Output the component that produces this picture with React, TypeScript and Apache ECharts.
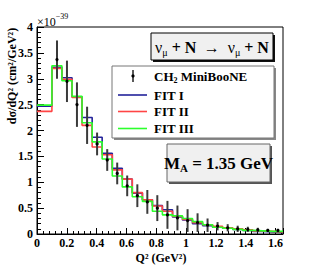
import React, { useEffect, useRef } from "react";
import * as echarts from "echarts";

// Histogram bin edges (Q^2, GeV^2)
const binEdges = [0, 0.1, 0.167, 0.235, 0.302, 0.37, 0.437, 0.505, 0.572, 0.639, 0.707, 0.774, 0.841, 0.909, 0.976, 1.043, 1.111, 1.178, 1.245, 1.313, 1.38, 1.447, 1.515, 1.582, 1.65];
// Fit predictions per bin (x1e-39 cm^2/GeV^2)
const fit1 = [2.47, 3.22, 3.02, 2.65, 2.25, 1.87, 1.56, 1.27, 1.06, 0.79, 0.66, 0.55, 0.47, 0.33, 0.27, 0.2, 0.16, 0.13, 0.11, 0.09, 0.07, 0.05, 0.04, 0.03];
const fit2 = [2.37, 3.2, 2.99, 2.64, 2.1, 1.68, 1.53, 1.24, 1.06, 0.8, 0.66, 0.54, 0.44, 0.34, 0.28, 0.22, 0.18, 0.15, 0.12, 0.1, 0.08, 0.06, 0.05, 0.04];
const fit3 = [2.49, 3.25, 2.96, 2.66, 2.15, 1.78, 1.45, 1.12, 0.91, 0.72, 0.63, 0.44, 0.37, 0.35, 0.3, 0.24, 0.18, 0.13, 0.11, 0.09, 0.07, 0.06, 0.05, 0.05];
// MiniBooNE data points
const dataQ2 = [0.134, 0.201, 0.268, 0.336, 0.403, 0.471, 0.538, 0.605, 0.673, 0.74, 0.807, 0.875, 0.942, 1.01, 1.077, 1.144, 1.211, 1.279, 1.346, 1.414, 1.481, 1.548, 1.616];
const dataXs = [3.37, 2.95, 2.5, 2.1, 1.74, 1.43, 1.17, 0.93, 0.74, 0.62, 0.5, 0.37, 0.31, 0.26, 0.22, 0.17, 0.15, 0.12, 0.1, 0.09, 0.08, 0.07, 0.07];
const dataErr = [0.37, 0.4, 0.43, 0.36, 0.22, 0.21, 0.21, 0.2, 0.22, 0.23, 0.25, 0.27, 0.24, 0.22, 0.18, 0.13, 0.08, 0.07, 0.06, 0.05, 0.04, 0.03, 0.03];

const legendNames = ["CH", "FIT I", "FIT II", "FIT III"];
const FONT = "Liberation Serif";
const BLUE = "#23239a";
const RED = "#ff4545";
const GREEN = "#2cff2c";

function stepData(vals: number[]) {
  return binEdges.map((e, i) => [e, vals[Math.min(i, vals.length - 1)]]);
}

export default function App() {
  const ref = useRef<HTMLDivElement>(null);
  useEffect(() => {
    if (!ref.current) return;
    const chart = echarts.init(ref.current, null, { renderer: "svg" });
    const lineSeries = (name: string, vals: number[], color: string) => ({
      name,
      type: "line",
      step: "end",
      data: stepData(vals),
      showSymbol: false,
      symbol: "none",
      lineStyle: { color, width: 1.6 },
      z: 2,
    });
    const legendRowY = [76, 95, 111.5, 128.5];
    const option: any = {
      animation: false,
      backgroundColor: "#fff",
      grid: { left: 37, top: 27, right: 32, bottom: 42, show: true, borderColor: "#000", borderWidth: 1, backgroundColor: "transparent" },
      xAxis: {
        type: "value",
        min: 0,
        max: 1.65,
        interval: 0.2,
        axisLine: { show: true, lineStyle: { color: "#000", width: 1 } },
        axisTick: { show: true, inside: true, length: 6, lineStyle: { color: "#000" } },
        minorTick: { show: true, splitNumber: 5, length: 3, lineStyle: { color: "#000" } },
        splitLine: { show: false },
        axisLabel: {
          color: "#000",
          fontFamily: FONT,
          fontWeight: "bold",
          fontSize: 12,
          margin: 3,
          formatter: (v: number) => (Math.abs(v / 0.2 - Math.round(v / 0.2)) < 1e-6 ? String(Math.round(v * 10) / 10) : ""),
        },
      },
      yAxis: {
        type: "value",
        min: 0,
        max: 4,
        interval: 0.5,
        axisLine: { show: true, lineStyle: { color: "#000", width: 1 } },
        axisTick: { show: true, inside: true, length: 7, lineStyle: { color: "#000" } },
        minorTick: { show: true, splitNumber: 5, length: 4, lineStyle: { color: "#000" } },
        splitLine: { show: false },
        axisLabel: { color: "#000", fontFamily: FONT, fontWeight: "bold", fontSize: 12, margin: 4 },
      },
      series: [
        lineSeries(legendNames[1], fit1, BLUE),
        lineSeries(legendNames[2], fit2, RED),
        lineSeries(legendNames[3], fit3, GREEN),
        {
          name: "data",
          type: "custom",
          z: 5,
          data: dataQ2.map((q, i) => [q, dataXs[i], dataErr[i]]),
          renderItem: (params: any, api: any) => {
            const x = api.value(0);
            const y = api.value(1);
            const e = api.value(2);
            const top = api.coord([x, y + e]);
            const bot = api.coord([x, Math.max(0, y - e)]);
            const c = api.coord([x, y]);
            return {
              type: "group",
              children: [
                { type: "line", shape: { x1: top[0], y1: top[1], x2: bot[0], y2: bot[1] }, style: { stroke: "#3a3a3a", lineWidth: 2 } },
                { type: "circle", shape: { cx: c[0], cy: c[1], r: 1.6 }, style: { fill: "#000" } },
              ],
            };
          },
        },
      ],
      graphic: [
        // x10^-39
        {
          type: "text",
          x: 37,
          y: 20,
          z: 100,
          style: {
            text: "{n|×10}{s|−39}",
            verticalAlign: "middle",
            rich: {
              n: { fontFamily: FONT, fontSize: 12, fill: "#000", lineHeight: 16, verticalAlign: "bottom" },
              s: { fontFamily: FONT, fontSize: 8, fill: "#000", lineHeight: 16, verticalAlign: "top" },
            },
          },
        },
        // y axis title
        {
          type: "text",
          x: 12,
          y: 76,
          rotation: Math.PI / 2,
          z: 100,
          style: { text: "dσ/dQ² (cm²/GeV²)", fontFamily: FONT, fontWeight: "bold", fontSize: 12, fill: "#000", align: "center", verticalAlign: "middle" },
        },
        // x axis title
        {
          type: "text",
          x: 161,
          y: 258,
          z: 100,
          style: { text: "Q² (GeV²)", fontFamily: FONT, fontWeight: "bold", fontSize: 12, fill: "#000", align: "center", verticalAlign: "middle" },
        },
        // reaction box
        { type: "rect", z: 100, shape: { x: 153, y: 35, width: 122, height: 27 }, style: { fill: "#111" } },
        { type: "rect", z: 101, shape: { x: 151, y: 33, width: 122, height: 27 }, style: { fill: "#f0f0f0", stroke: "#000", lineWidth: 1 } },
        {
          type: "text",
          x: 212,
          y: 47,
          z: 102,
          style: {
            text: "{g|ν}{sub|μ}{b| + N} {g| → }{g| ν}{sub|μ}{b| + N}",
            align: "center",
            verticalAlign: "middle",
            rich: {
              g: { fontFamily: FONT, fontSize: 16, fill: "#000", lineHeight: 20, verticalAlign: "middle" },
              b: { fontFamily: FONT, fontSize: 16, fontWeight: "bold", fill: "#000", lineHeight: 20, verticalAlign: "middle" },
              sub: { fontFamily: FONT, fontSize: 10, fill: "#000", lineHeight: 20, verticalAlign: "bottom" },
            },
          },
        },
        // legend box
        { type: "rect", z: 100, shape: { x: 114, y: 68, width: 162, height: 72 }, style: { fill: "#888" } },
        { type: "rect", z: 101, shape: { x: 112, y: 66, width: 162, height: 72 }, style: { fill: "#fff", stroke: "#777", lineWidth: 1 } },
        { type: "line", z: 102, shape: { x1: 133, y1: 70, x2: 133, y2: 82 }, style: { stroke: "#222", lineWidth: 1.5 } },
        { type: "circle", z: 103, shape: { cx: 133, cy: 76, r: 1.6 }, style: { fill: "#000" } },
        { type: "line", z: 102, shape: { x1: 118, y1: legendRowY[1], x2: 147, y2: legendRowY[1] }, style: { stroke: BLUE, lineWidth: 1.6 } },
        { type: "line", z: 102, shape: { x1: 118, y1: legendRowY[2], x2: 147, y2: legendRowY[2] }, style: { stroke: RED, lineWidth: 1.6 } },
        { type: "line", z: 102, shape: { x1: 118, y1: legendRowY[3], x2: 147, y2: legendRowY[3] }, style: { stroke: GREEN, lineWidth: 1.6 } },
        {
          type: "text",
          x: 154,
          y: legendRowY[0],
          z: 102,
          style: {
            text: "{b|" + legendNames[0] + "}{sub|2}{b| MiniBooNE}",
            verticalAlign: "middle",
            rich: {
              b: { fontFamily: FONT, fontSize: 13, fontWeight: "bold", fill: "#000", lineHeight: 16, verticalAlign: "middle" },
              sub: { fontFamily: FONT, fontSize: 8, fontWeight: "bold", fill: "#000", lineHeight: 16, verticalAlign: "bottom" },
            },
          },
        },
        ...[1, 2, 3].map((i) => ({
          type: "text",
          x: 154,
          y: legendRowY[i],
          z: 102,
          style: { text: legendNames[i], fontFamily: FONT, fontSize: 13, fontWeight: "bold", fill: "#000", verticalAlign: "middle" },
        })),
        // M_A box
        { type: "rect", z: 100, shape: { x: 169, y: 146, width: 103, height: 38 }, style: { fill: "#555" } },
        { type: "rect", z: 101, shape: { x: 167, y: 144, width: 103, height: 38 }, style: { fill: "#f0f0f0", stroke: "#666", lineWidth: 1 } },
        {
          type: "text",
          x: 218.5,
          y: 163,
          z: 102,
          style: {
            text: "{b|M}{sub|A}{b| = 1.35 GeV}",
            align: "center",
            verticalAlign: "middle",
            rich: {
              b: { fontFamily: FONT, fontSize: 17, fontWeight: "bold", fill: "#000", lineHeight: 20, verticalAlign: "middle" },
              sub: { fontFamily: FONT, fontSize: 11, fontWeight: "bold", fill: "#000", lineHeight: 20, verticalAlign: "bottom" },
            },
          },
        },
      ],
    };
    chart.setOption(option);
    return () => chart.dispose();
  }, []);
  return <div ref={ref} style={{ position: "absolute", left: 0, top: 0, width: 315, height: 276 }} />;
}
